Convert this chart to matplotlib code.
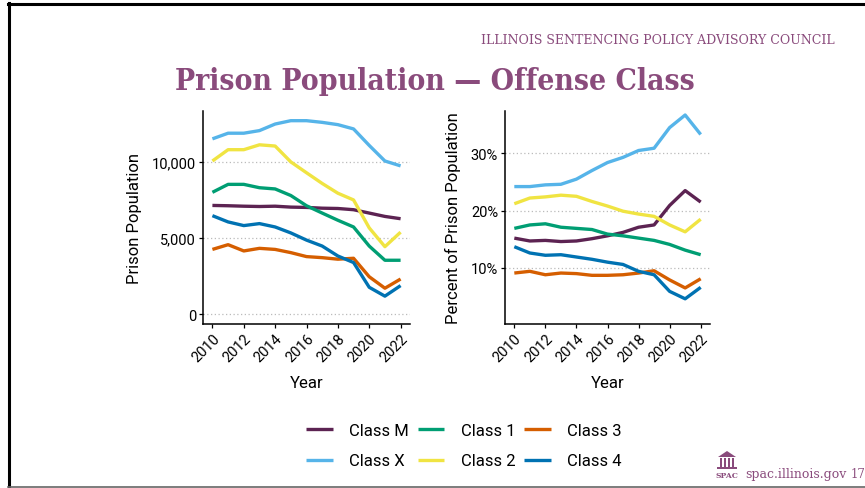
import matplotlib
matplotlib.use("Agg")
import matplotlib.pyplot as plt
from matplotlib.lines import Line2D
from matplotlib.patches import Polygon, Rectangle
from matplotlib.ticker import FuncFormatter

years = list(range(2010, 2023))
classes = ["Class M", "Class X", "Class 1", "Class 2", "Class 3", "Class 4"]
colors = ["#5C2352", "#56B4E9", "#009E73", "#F0E442", "#D55E00", "#0072B2"]

pop_M = [7130, 7110, 7080, 7060, 7080, 7020, 7000, 6950, 6930, 6850, 6630, 6410, 6260]
pop_X = [11490, 11860, 11860, 12030, 12460, 12680, 12680, 12570, 12420, 12140, 11060, 10040, 9720]
pop_1 = [7990, 8510, 8510, 8290, 8210, 7780, 7110, 6630, 6160, 5720, 4470, 3540, 3540]
pop_2 = [10040, 10780, 10780, 11100, 11020, 9980, 9270, 8570, 7930, 7490, 5660, 4430, 5380]
pop_3 = [4250, 4560, 4150, 4320, 4250, 4040, 3780, 3710, 3610, 3670, 2460, 1710, 2310]
pop_4 = [6460, 6050, 5810, 5940, 5720, 5330, 4860, 4470, 3820, 3390, 1770, 1190, 1880]

pct_M = [15.2, 14.7, 14.8, 14.6, 14.7, 15.1, 15.6, 16.2, 17.1, 17.5, 20.9, 23.5, 21.5]
pct_X = [24.2, 24.2, 24.5, 24.6, 25.5, 27.0, 28.4, 29.3, 30.5, 30.9, 34.5, 36.7, 33.3]
pct_1 = [16.9, 17.5, 17.7, 17.1, 16.9, 16.7, 15.9, 15.6, 15.2, 14.8, 14.1, 13.1, 12.3]
pct_2 = [21.2, 22.2, 22.4, 22.7, 22.5, 21.6, 20.8, 19.9, 19.4, 19.0, 17.5, 16.3, 18.5]
pct_3 = [9.1, 9.4, 8.8, 9.1, 9.0, 8.7, 8.7, 8.8, 9.1, 9.5, 7.9, 6.5, 8.1]
pct_4 = [13.7, 12.6, 12.2, 12.3, 11.9, 11.5, 11.0, 10.6, 9.4, 8.8, 5.9, 4.6, 6.6]

pop_series = [pop_M, pop_X, pop_1, pop_2, pop_3, pop_4]
pct_series = [pct_M, pct_X, pct_1, pct_2, pct_3, pct_4]
xticks = [2010, 2012, 2014, 2016, 2018, 2020, 2022]

plt.rcParams['font.family'] = ['Roboto', 'DejaVu Sans']
W, H = 865, 489
fig = plt.figure(figsize=(W / 100, H / 100), dpi=100)
fig.patch.set_facecolor("white")

def fx(px):
    return px / W

def fy(py):
    return 1 - py / H

# slide border
fig.add_artist(Line2D([fx(9), fx(9)], [fy(4), fy(487)], color="black", lw=2.2))
fig.add_artist(Line2D([fx(8), 1], [fy(5), fy(5)], color="black", lw=2.2))
fig.add_artist(Line2D([fx(8), 1], [fy(488), fy(488)], color="#666666", lw=1.2))

purple = "#8A4B7C"
fig.text(fx(835), fy(40), "ILLINOIS SENTENCING POLICY ADVISORY COUNCIL", ha="right", va="center",
         family="DejaVu Serif", fontsize=9.0, color=purple)
fig.text(fx(435), fy(82), "Prison Population \u2014 Offense Class", ha="center", va="center",
         family="DejaVu Serif", fontstretch="condensed", fontweight="bold", fontsize=21.5, color=purple)

ax1 = fig.add_axes([fx(203), fy(325), fx(410) - fx(203), fy(112) - fy(325)])
ax2 = fig.add_axes([fx(505), fy(325), fx(710) - fx(505), fy(112) - fy(325)])

for ax, series in ((ax1, pop_series), (ax2, pct_series)):
    for name, col, vals in zip(classes, colors, series):
        ax.plot(years, vals, color=col, lw=2.4, label=name, solid_capstyle="butt", zorder=3)
    ax.set_xlim(2009.4, 2022.6)
    ax.set_xticks(xticks)
    ax.set_xticklabels([str(t) for t in xticks], rotation=45, ha="right", rotation_mode="anchor")
    for s in ("top", "right"):
        ax.spines[s].set_visible(False)
    for s in ("left", "bottom"):
        ax.spines[s].set_linewidth(1.1)
    ax.tick_params(axis="both", length=3, width=0.9, labelsize=10.5, colors="black", pad=2)
    ax.grid(axis="y", color="#bbbbbb", linestyle=(0, (1, 2)), lw=0.9, zorder=0)
    ax.set_xlabel("Year", fontsize=12, labelpad=8)
    ax.set_facecolor("white")

ax1.set_ylim(-634, 13314)
ax1.set_yticks([0, 5000, 10000])
ax1.yaxis.set_major_formatter(FuncFormatter(lambda v, p: f"{int(v):,}"))
ax1.set_ylabel("Prison Population", fontsize=12, labelpad=7)

ax2.set_ylim(0.2, 37.4)
ax2.set_yticks([10, 20, 30])
ax2.yaxis.set_major_formatter(FuncFormatter(lambda v, p: f"{int(v)}%"))
ax2.set_ylabel("Percent of Prison Population", fontsize=12, labelpad=7)

handles, labels = ax1.get_legend_handles_labels()
fig.legend(handles, labels, ncol=3, loc="center", bbox_to_anchor=(fx(464), fy(446.5)),
           frameon=False, fontsize=12, handlelength=1.6, handletextpad=1.0,
           columnspacing=0.5, labelspacing=0.95)

# SPAC logo (small building icon)
fig.add_artist(Polygon([[fx(718), fy(458)], [fx(727), fy(452)], [fx(736), fy(458)]],
                       closed=True, color=purple, lw=0))
for cx in (719.5, 723.5, 727.5, 731.5):
    fig.add_artist(Rectangle((fx(cx), fy(468)), fx(2), fy(459) - fy(468), color=purple, lw=0))
fig.add_artist(Rectangle((fx(717), fy(470)), fx(20), fy(468) - fy(470), color=purple, lw=0))
fig.text(fx(727), fy(476), "SPAC", ha="center", va="center", family="DejaVu Serif",
         fontweight="bold", fontsize=5.5, color=purple)
fig.text(fx(745), fy(475), "spac.illinois.gov", ha="left", va="center", family="DejaVu Serif",
         fontsize=9, color=purple)
fig.text(fx(851), fy(475), "17", ha="left", va="center", family="DejaVu Serif",
         fontsize=8.5, color=purple)

fig.savefig("out.png", dpi=100, facecolor="white")
